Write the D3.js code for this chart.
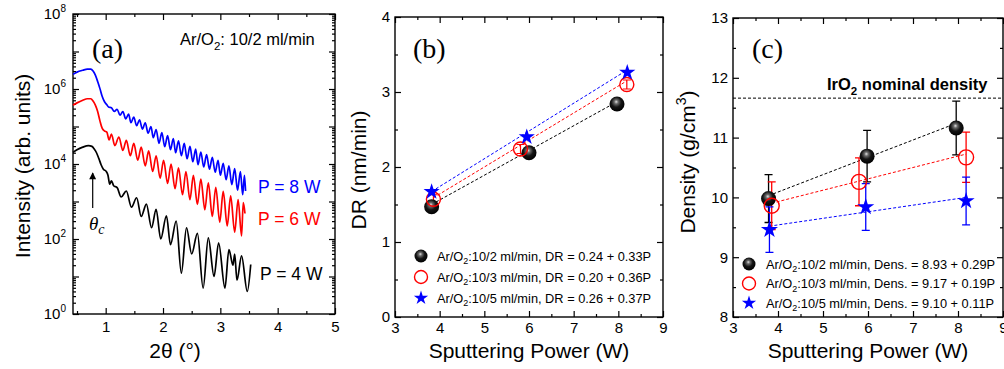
<!DOCTYPE html>
<html>
<head>
<meta charset="utf-8">
<script src="https://cdn.jsdelivr.net/npm/d3@7"></script>
<style>
body { margin: 0; background: #fff; }
svg { display: block; font-family: Arial, "Liberation Sans", sans-serif; }
</style>
</head>
<body>
<svg width="1004" height="369"></svg>
<script>
// ---------- panel (a): XRR curves, [2theta, log10 intensity] ----------
var xrrP8 = [[0.43,6.39],[0.5,6.45],[0.6,6.5],[0.68,6.53],[0.74,6.53],[0.78,6.48],[0.82,6.37],[0.86,6.2],[0.9,6.01],[0.94,5.8],[0.98,5.66],[1.02,5.58],[1.05,5.52],
  [1.10,5.50],[1.15,5.40],[1.20,5.46],[1.25,5.30],[1.30,5.40],[1.35,5.20],[1.40,5.33],[1.44,5.10],[1.49,5.25],[1.54,5.02],
  [1.59,5.18],[1.64,4.93],[1.69,5.10],[1.74,4.82],[1.79,5.00],[1.83,4.70],[1.88,4.92],[1.93,4.55],[1.98,4.84],[2.03,4.46],
  [2.08,4.76],[2.13,4.38],[2.18,4.68],[2.22,4.30],[2.27,4.62],[2.32,4.22],[2.37,4.55],[2.42,4.14],[2.47,4.47],[2.52,4.06],
  [2.57,4.40],[2.61,3.98],[2.66,4.32],[2.71,3.92],[2.76,4.25],[2.81,3.86],[2.86,4.18],[2.91,3.78],[2.96,4.10],[3.00,3.70],
  [3.05,4.02],[3.10,3.58],[3.15,3.95],[3.20,3.45],[3.25,3.88],[3.30,3.30],[3.35,3.80],[3.39,3.18],[3.42,3.70],[3.44,3.28]];
var xrrP6 = [[0.43,5.57],[0.5,5.63],[0.6,5.7],[0.68,5.74],[0.74,5.74],[0.78,5.68],[0.82,5.57],[0.86,5.4],[0.9,5.15],[0.94,4.95],[0.98,4.88],[1.02,4.85],[1.06,4.64],
  [1.10,4.80],[1.16,4.49],[1.23,4.72],[1.30,4.36],[1.36,4.63],[1.43,4.22],[1.49,4.55],[1.56,4.10],[1.62,4.45],[1.69,3.95],
  [1.75,4.35],[1.82,3.80],[1.88,4.22],[1.95,3.62],[2.01,4.10],[2.08,3.48],[2.14,4.00],[2.21,3.34],[2.27,3.90],[2.34,3.18],
  [2.40,3.80],[2.47,3.05],[2.53,3.70],[2.60,2.92],[2.66,3.60],[2.73,2.78],[2.79,3.50],[2.86,2.60],[2.92,3.38],[2.99,2.45],
  [3.05,3.27],[3.12,2.35],[3.18,3.15],[3.25,2.18],[3.31,3.05],[3.37,2.08],[3.40,2.97],[3.43,2.68]];
var xrrP4 = [[0.43,4.31],[0.5,4.38],[0.6,4.45],[0.7,4.49],[0.76,4.47],[0.8,4.4],[0.84,4.3],[0.88,4.15],[0.92,3.98],[0.96,3.86],[1.01,3.8],[1.04,3.7],
  [1.07,3.46],[1.10,3.55],[1.14,3.42],[1.20,3.37],[1.27,3.12],[1.36,3.28],[1.45,2.85],[1.54,3.10],[1.62,2.60],[1.71,2.93],
  [1.80,2.30],[1.88,2.79],[1.96,2.00],[2.06,2.62],[2.13,1.85],[2.23,2.48],[2.32,1.09],[2.41,2.30],[2.50,1.60],[2.60,2.15],
  [2.70,0.69],[2.79,2.03],[2.89,1.00],[2.97,1.90],[3.08,0.69],[3.15,1.72],[3.22,1.30],[3.25,1.60],[3.29,0.90],[3.37,1.55],
  [3.47,0.60],[3.53,1.32]];
var xrrLabels = ["P = 8 W", "P = 6 W", "P = 4 W"];
var thetaMajor = [1, 2, 3, 4, 5];
var thetaMinor = [0.5, 1.5, 2.5, 3.5, 4.5];
var decades = [0, 1, 2, 3, 4, 5, 6, 7, 8];

// ---------- panel (b): deposition rate ----------
var dr102 = [[3.82,1.47],[6.00,2.19],[7.97,2.84]];
var dr103 = [[3.86,1.57],[5.81,2.24],[8.19,3.10]];
var dr105 = [[3.82,1.67],[5.95,2.40],[8.20,3.26]];
var drErr103 = [0.06, 0.06, 0.06];
var drFit = [[0.24,0.33],[0.20,0.36],[0.26,0.37]];
var drLegend = ["Ar/O|2|:10/2 ml/min, DR = 0.24 + 0.33P", "Ar/O|2|:10/3 ml/min, DR = 0.20 + 0.36P", "Ar/O|2|:10/5 ml/min, DR = 0.26 + 0.37P"];

// ---------- panel (c): density ----------
var dens102 = [[3.79,9.98],[5.98,10.69],[7.96,11.16]];
var densErr102 = [0.40, 0.43, 0.45];
var dens103 = [[3.86,9.86],[5.80,10.26],[8.18,10.67]];
var densErr103 = [0.40, 0.40, 0.42];
var dens105 = [[3.81,9.46],[5.95,9.84],[8.18,9.94]];
var densErr105 = [0.38, 0.39, 0.40];
var densFit = [[8.93,0.29],[9.17,0.19],[9.10,0.11]];
var densLegend = ["Ar/O|2|:10/2 ml/min, Dens. = 8.93 + 0.29P", "Ar/O|2|:10/3 ml/min, Dens. = 9.17 + 0.19P", "Ar/O|2|:10/5 ml/min, Dens. = 9.10 + 0.11P"];
var nominalDensity = 11.66;

var powerMajor = [3, 4, 5, 6, 7, 8, 9];
var powerMinor = [3.5, 4.5, 5.5, 6.5, 7.5, 8.5];

var svg = d3.select("svg");

var defs = svg.append("defs");
var grad = defs.append("radialGradient").attr("id", "ball")
    .attr("cx", "45%").attr("cy", "40%").attr("r", "60%").attr("fx", "45%").attr("fy", "35%");
grad.append("stop").attr("offset", "0%").attr("stop-color", "#e0e0e0");
grad.append("stop").attr("offset", "22%").attr("stop-color", "#6a6a6a");
grad.append("stop").attr("offset", "55%").attr("stop-color", "#151515");
grad.append("stop").attr("offset", "100%").attr("stop-color", "#000");
defs.append("marker").attr("id", "arr").attr("viewBox", "0 0 10 10").attr("refX", 9).attr("refY", 5)
    .attr("markerWidth", 9).attr("markerHeight", 7).attr("orient", "auto").attr("markerUnits", "userSpaceOnUse")
  .append("path").attr("d", "M0,0L10,5L0,10z").attr("fill", "#000");

function axes(g, x, y, o) {
  var xr = x.range(), yr = y.range();
  function mk(ax, vals, len, fmt, pad) {
    return ax.tickValues(vals).tickSizeInner(-len).tickSizeOuter(0).tickPadding(pad || 5).tickFormat(fmt || "");
  }
  g.append("g").attr("class", "xb").attr("transform", "translate(0," + yr[0] + ")").call(mk(d3.axisBottom(x), o.xMajor, 6, o.xFmt, o.xPad));
  g.append("g").attr("transform", "translate(0," + yr[0] + ")").call(mk(d3.axisBottom(x), o.xMinor, 3));
  g.append("g").attr("transform", "translate(0," + yr[1] + ")").call(mk(d3.axisTop(x), o.xMajor, 6));
  g.append("g").attr("transform", "translate(0," + yr[1] + ")").call(mk(d3.axisTop(x), o.xMinor, 3));
  g.append("g").attr("class", "yl").attr("transform", "translate(" + xr[0] + ",0)").call(mk(d3.axisLeft(y), o.yMajor, 6, o.yFmt, o.yPad));
  g.append("g").attr("transform", "translate(" + xr[0] + ",0)").call(mk(d3.axisLeft(y), o.yMinor, 3));
  g.append("g").attr("transform", "translate(" + xr[1] + ",0)").call(mk(d3.axisRight(y), o.yMajor, 6));
  g.append("g").attr("transform", "translate(" + xr[1] + ",0)").call(mk(d3.axisRight(y), o.yMinor, 3));
  g.selectAll(".domain").remove();
  g.selectAll(".tick line").attr("stroke-width", 1.2);
  g.selectAll(".tick text").attr("font-size", 15).attr("font-family", null).attr("fill", "#000");
  g.selectAll("g").attr("font-family", null);
  g.append("rect").attr("x", xr[0]).attr("y", yr[1]).attr("width", xr[1] - xr[0]).attr("height", yr[0] - yr[1])
    .attr("fill", "none").attr("stroke", "#000").attr("stroke-width", 1.4);
}

function subText(sel, str, size) {
  var parts = str.split("|");
  sel.append("tspan").text(parts[0]);
  sel.append("tspan").text(parts[1]).attr("font-size", size * 0.7).attr("dy", size * 0.3);
  sel.append("tspan").text(parts[2]).attr("dy", -size * 0.3);
}

function ball(g, cx, cy, r) {
  g.append("circle").attr("cx", cx).attr("cy", cy).attr("r", r).attr("fill", "url(#ball)");
}
function ring(g, cx, cy, r) {
  g.append("circle").attr("cx", cx).attr("cy", cy).attr("r", r).attr("fill", "none").attr("stroke", "#f00").attr("stroke-width", 1.4);
}
function star(g, cx, cy, r) {
  g.append("path").attr("d", d3.symbol(d3.symbolStar, r * r / 0.8908)()).attr("transform", "translate(" + cx + "," + cy + ")").attr("fill", "#00f");
}

// ================= panel (a) =================
var ga = svg.append("g");
var xa = d3.scaleLinear().domain([0.43, 5]).range([73, 335]);
var ya = d3.scaleLog().domain([1, 1e8]).range([314, 14]);
var logMinor = [];
decades.slice(0, -1).forEach(function(k) { for (var m = 2; m <= 9; m++) logMinor.push(m * Math.pow(10, k)); });
axes(ga, xa, ya, {
  xMajor: thetaMajor, xMinor: thetaMinor, xFmt: d3.format("d"), xPad: 7,
  yMajor: decades.map(function(k) { return Math.pow(10, k); }), yMinor: logMinor,
  yFmt: function(d) { var k = Math.round(Math.log10(d)); return k % 2 === 0 ? String(k) : ""; }, yPad: 7
});
ga.selectAll(".yl .tick text").each(function() {
  var t = d3.select(this), k = t.text();
  if (!k) return;
  t.text("");
  t.append("tspan").text("10");
  t.append("tspan").text(k).attr("font-size", 10).attr("dy", -7);
});

var lineA = d3.line().x(function(d) { return xa(d[0]); }).y(function(d) { return ya(Math.pow(10, d[1])); }).curve(d3.curveMonotoneX);
[[xrrP8, "#00f"], [xrrP6, "#f00"], [xrrP4, "#000"]].forEach(function(s) {
  ga.append("path").attr("d", lineA(s[0])).attr("fill", "none").attr("stroke", s[1]).attr("stroke-width", 1.7).attr("stroke-linejoin", "round");
});
ga.append("text").attr("x", 258).attr("y", 193).attr("font-size", 17.5).attr("fill", "#00f").text(xrrLabels[0]);
ga.append("text").attr("x", 258).attr("y", 225).attr("font-size", 17.5).attr("fill", "#f00").text(xrrLabels[1]);
ga.append("text").attr("x", 260).attr("y", 280).attr("font-size", 17.5).attr("fill", "#000").text(xrrLabels[2]);
ga.append("text").attr("x", 92).attr("y", 58).attr("font-family", "'Liberation Serif', 'Times New Roman', serif").attr("font-size", 28).text("(a)");
subText(ga.append("text").attr("x", 180).attr("y", 45).attr("font-size", 16.5), "Ar/O|2|: 10/2 ml/min", 16.5);
ga.append("line").attr("x1", 92.7).attr("x2", 92.7).attr("y1", 208).attr("y2", 173)
  .attr("stroke", "#000").attr("stroke-width", 1.2).attr("marker-end", "url(#arr)");
var thc = ga.append("text").attr("x", 89).attr("y", 230).attr("font-family", "'Liberation Serif', 'Times New Roman', serif").attr("font-style", "italic").attr("font-size", 19);
thc.append("tspan").text("θ");
thc.append("tspan").text("c").attr("font-size", 14).attr("dy", 4);
ga.append("text").attr("x", 175).attr("y", 358).attr("text-anchor", "middle").attr("font-size", 21).text("2θ (°)");
ga.append("text").attr("transform", "translate(30,166) rotate(-90)").attr("text-anchor", "middle").attr("font-size", 21).text("Intensity (arb. units)");

// ================= panel (b) =================
var gb = svg.append("g");
var xb = d3.scaleLinear().domain([3, 9]).range([395, 663]);
var yb = d3.scaleLinear().domain([0, 4]).range([317, 17]);
axes(gb, xb, yb, {
  xMajor: powerMajor, xMinor: powerMinor, xFmt: d3.format("d"), xPad: 5,
  yMajor: [0, 1, 2, 3, 4], yMinor: [0.5, 1.5, 2.5, 3.5], yFmt: d3.format("d"), yPad: 5
});
var colsB = ["#000", "#f00", "#00f"];
[dr102, dr103, dr105].forEach(function(s, i) {
  var p0 = s[0][0], p1 = s[s.length - 1][0], f = drFit[i];
  gb.append("line").attr("x1", xb(p0)).attr("y1", yb(f[0] + f[1] * p0)).attr("x2", xb(p1)).attr("y2", yb(f[0] + f[1] * p1))
    .attr("stroke", colsB[i]).attr("stroke-width", 1).attr("stroke-dasharray", "3,2");
});
dr103.forEach(function(d, i) {
  var x = xb(d[0]), e = drErr103[i];
  gb.append("path").attr("d", "M" + x + "," + yb(d[1] - e) + "V" + yb(d[1] + e) + "M" + (x - 4) + "," + yb(d[1] - e) + "h8M" + (x - 4) + "," + yb(d[1] + e) + "h8")
    .attr("stroke", "#f00").attr("stroke-width", 1.2).attr("fill", "none");
});
dr102.forEach(function(d) { ball(gb, xb(d[0]), yb(d[1]), 7.5); });
dr103.forEach(function(d) { ring(gb, xb(d[0]), yb(d[1]), 7); });
dr105.forEach(function(d) { star(gb, xb(d[0]), yb(d[1]), 8.5); });
ball(gb, 421, 256, 6.5); ring(gb, 421, 277, 6.5); star(gb, 421, 298, 7.5);
drLegend.forEach(function(t, i) {
  subText(gb.append("text").attr("x", 437).attr("y", 260.5 + i * 21).attr("font-size", 12.8), t, 12.8);
});
gb.append("text").attr("x", 413).attr("y", 58).attr("font-family", "'Liberation Serif', 'Times New Roman', serif").attr("font-size", 28).text("(b)");
gb.append("text").attr("x", 529).attr("y", 358).attr("text-anchor", "middle").attr("font-size", 21).text("Sputtering Power (W)");
gb.append("text").attr("transform", "translate(366,170) rotate(-90)").attr("text-anchor", "middle").attr("font-size", 21).text("DR (nm/min)");

// ================= panel (c) =================
var gc = svg.append("g");
var xc = d3.scaleLinear().domain([3, 9]).range([733, 1003]);
var yc = d3.scaleLinear().domain([8, 13]).range([317, 18]);
axes(gc, xc, yc, {
  xMajor: powerMajor, xMinor: powerMinor, xFmt: d3.format("d"), xPad: 5,
  yMajor: [8, 9, 10, 11, 12, 13], yMinor: [8.5, 9.5, 10.5, 11.5, 12.5], yFmt: d3.format("d"), yPad: 5
});
gc.append("line").attr("x1", xc(3)).attr("x2", xc(9)).attr("y1", yc(nominalDensity)).attr("y2", yc(nominalDensity))
  .attr("stroke", "#000").attr("stroke-width", 1).attr("stroke-dasharray", "3,2");
var it = gc.append("text").attr("x", 827).attr("y", 90).attr("font-size", 16.5).attr("font-weight", "bold");
subText(it, "IrO|2| nominal density", 16.5);

var setsC = [[dens102, densErr102, "#000"], [dens103, densErr103, "#f00"], [dens105, densErr105, "#00f"]];
setsC.forEach(function(s, i) {
  var pts = s[0], p0 = pts[0][0], p1 = pts[pts.length - 1][0], f = densFit[i];
  gc.append("line").attr("x1", xc(p0)).attr("y1", yc(f[0] + f[1] * p0)).attr("x2", xc(p1)).attr("y2", yc(f[0] + f[1] * p1))
    .attr("stroke", s[2]).attr("stroke-width", 1).attr("stroke-dasharray", "3,2");
});
setsC.forEach(function(s) {
  s[0].forEach(function(d, j) {
    var x = xc(d[0]), e = s[1][j];
    gc.append("path").attr("d", "M" + x + "," + yc(d[1] - e) + "V" + yc(d[1] + e) + "M" + (x - 4) + "," + yc(d[1] - e) + "h8M" + (x - 4) + "," + yc(d[1] + e) + "h8")
      .attr("stroke", s[2]).attr("stroke-width", 1.3).attr("fill", "none");
  });
});
dens102.forEach(function(d) { ball(gc, xc(d[0]), yc(d[1]), 7.5); });
dens103.forEach(function(d) { ring(gc, xc(d[0]), yc(d[1]), 7.5); });
dens105.forEach(function(d) { star(gc, xc(d[0]), yc(d[1]), 9); });
ball(gc, 749, 264, 6.5); ring(gc, 749, 283.5, 6.5); star(gc, 749, 303, 7.5);
densLegend.forEach(function(t, i) {
  subText(gc.append("text").attr("x", 766).attr("y", 268.5 + i * 19.5).attr("font-size", 12.8), t, 12.8);
});
gc.append("text").attr("x", 752).attr("y", 58).attr("font-family", "'Liberation Serif', 'Times New Roman', serif").attr("font-size", 28).text("(c)");
gc.append("text").attr("x", 868).attr("y", 358).attr("text-anchor", "middle").attr("font-size", 21).text("Sputtering Power (W)");
var dt = gc.append("text").attr("transform", "translate(695,162) rotate(-90)").attr("text-anchor", "middle").attr("font-size", 21);
dt.append("tspan").text("Density (g/cm");
dt.append("tspan").text("3").attr("font-size", 14).attr("dy", -9);
dt.append("tspan").text(")").attr("dy", 9);
</script>
</body>
</html>
